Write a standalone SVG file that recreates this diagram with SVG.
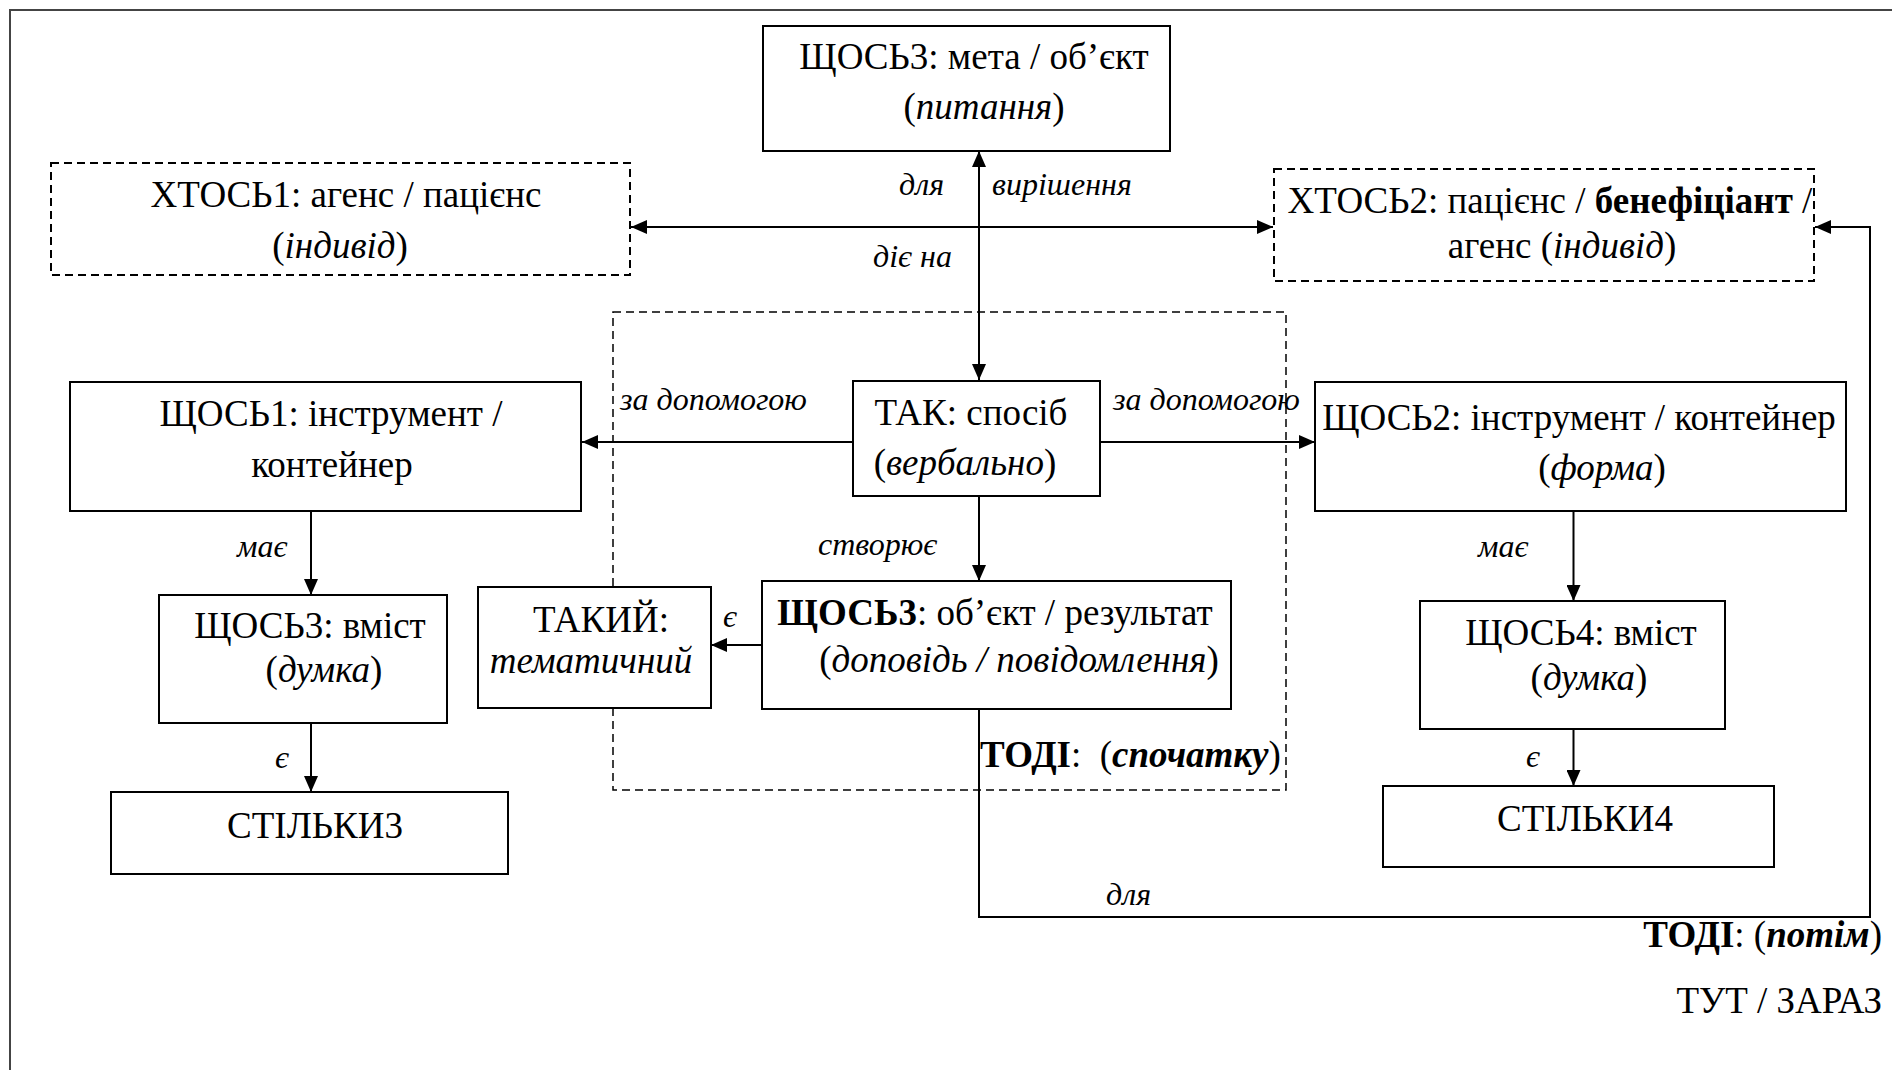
<svg xmlns="http://www.w3.org/2000/svg" width="1892" height="1070" viewBox="0 0 1892 1070">
  <style>
    text { font-family: "Liberation Serif", "Times New Roman", serif; font-size: 37px; fill: #000; }
    .c { text-anchor: middle; }
    .e { text-anchor: end; }
    .lbl { font-style: italic; font-size: 32px; }
    .i { font-style: italic; }
    .b { font-weight: bold; }
    .box { fill: #fff; stroke: #000; stroke-width: 2; }
    .dbox { fill: none; stroke: #000; stroke-width: 2; stroke-dasharray: 8 5; }
    .grp { fill: none; stroke: #000; stroke-width: 1.5; stroke-dasharray: 8 5; }
    .ln { fill: none; stroke: #000; stroke-width: 2; }
    .arr { marker-end: url(#ah); }
    .arr2 { marker-start: url(#ah); marker-end: url(#ah); }
  </style>
  <defs>
    <marker id="ah" markerUnits="userSpaceOnUse" markerWidth="16" markerHeight="14" refX="16" refY="7" orient="auto-start-reverse">
      <path d="M0,0 L16,7 L0,14 z" fill="#000"/>
    </marker>
  </defs>

  <rect width="1892" height="1070" fill="#fff"/>
  <!-- page frame -->
  <path d="M10,1070 V10 H1892" fill="none" stroke="#444" stroke-width="2"/>

  <!-- dashed scope: first stage -->
  <rect id="scope-first" class="grp" x="613" y="312" width="673" height="478"/>

  <!-- connectors -->
  <g id="connectors">
    <line class="ln arr2" x1="979" y1="380" x2="979" y2="151"/>
    <line class="ln arr2" x1="1273" y1="227" x2="631" y2="227"/>
    <line class="ln arr" x1="853" y1="442" x2="582" y2="442"/>
    <line class="ln arr" x1="1100" y1="442" x2="1315" y2="442"/>
    <line class="ln arr" x1="979" y1="496" x2="979" y2="581"/>
    <line class="ln arr" x1="762" y1="645" x2="711" y2="645"/>
    <line class="ln arr" x1="311" y1="511" x2="311" y2="595"/>
    <line class="ln arr" x1="311" y1="723" x2="311" y2="792"/>
    <line class="ln arr" x1="1573.5" y1="511" x2="1573.5" y2="601"/>
    <line class="ln arr" x1="1573.5" y1="729" x2="1573.5" y2="786"/>
    <path class="ln arr" d="M979,709 V917 H1870 V227 H1815"/>

    <text class="lbl" x="899" y="195">для</text>
    <text class="lbl" x="992" y="195">вирішення</text>
    <text class="lbl" x="873" y="267">діє на</text>
    <text class="lbl" x="620" y="410">за допомогою</text>
    <text class="lbl" x="1113" y="410">за допомогою</text>
    <text class="lbl" x="818" y="555">створює</text>
    <text class="lbl" x="723" y="627">є</text>
    <text class="lbl" x="237" y="557">має</text>
    <text class="lbl" x="275" y="768">є</text>
    <text class="lbl" x="1478" y="557">має</text>
    <text class="lbl" x="1526" y="767">є</text>
    <text class="lbl" x="1106" y="905">для</text>
  </g>

  <g id="goal">
    <rect class="box" x="763" y="26" width="407" height="125"/>
    <text class="c" x="974" y="69">ЩОСЬ3: мета / об’єкт</text>
    <text class="c" x="984" y="119">(<tspan class="i">питання</tspan>)</text>
  </g>

  <g id="agent1">
    <rect class="dbox" x="51" y="163" width="579" height="112"/>
    <text class="c" x="346" y="207">ХТОСЬ1: агенс / пацієнс</text>
    <text class="c" x="340" y="258">(<tspan class="i">індивід</tspan>)</text>
  </g>

  <g id="agent2">
    <rect class="dbox" x="1274" y="169" width="540" height="112"/>
    <text class="c" x="1550" y="213">ХТОСЬ2: пацієнс / <tspan class="b">бенефіціант</tspan> /</text>
    <text class="c" x="1562" y="258">агенс (<tspan class="i">індивід</tspan>)</text>
  </g>

  <g id="tool1">
    <rect class="box" x="70" y="382" width="511" height="129"/>
    <text class="c" x="331" y="426">ЩОСЬ1: інструмент /</text>
    <text class="c" x="332" y="477">контейнер</text>
  </g>

  <g id="manner">
    <rect class="box" x="853" y="381" width="247" height="115"/>
    <text class="c" x="971" y="425">ТАК: спосіб</text>
    <text class="c" x="965" y="475">(<tspan class="i">вербально</tspan>)</text>
  </g>

  <g id="tool2">
    <rect class="box" x="1315" y="382" width="531" height="129"/>
    <text class="c" x="1579" y="430">ЩОСЬ2: інструмент / контейнер</text>
    <text class="c" x="1602" y="480">(<tspan class="i">форма</tspan>)</text>
  </g>

  <g id="content1">
    <rect class="box" x="159" y="595" width="288" height="128"/>
    <text class="c" x="310" y="638">ЩОСЬ3: вміст</text>
    <text class="c" x="324" y="682">(<tspan class="i">думка</tspan>)</text>
  </g>

  <g id="quality">
    <rect class="box" x="478" y="587" width="233" height="121"/>
    <text class="c" x="601" y="632">ТАКИЙ:</text>
    <text class="c i" x="591" y="673">тематичний</text>
  </g>

  <g id="result">
    <rect class="box" x="762" y="581" width="469" height="128"/>
    <text class="c" x="995" y="625"><tspan class="b">ЩОСЬ3</tspan>: об’єкт / результат</text>
    <text class="c" x="1019" y="672">(<tspan class="i">доповідь / повідомлення</tspan>)</text>
  </g>

  <g id="content2">
    <rect class="box" x="1420" y="601" width="305" height="128"/>
    <text class="c" x="1581" y="645">ЩОСЬ4: вміст</text>
    <text class="c" x="1589" y="690">(<tspan class="i">думка</tspan>)</text>
  </g>

  <g id="amount3">
    <rect class="box" x="111" y="792" width="397" height="82"/>
    <text class="c" x="315" y="838">СТІЛЬКИ3</text>
  </g>

  <g id="amount4">
    <rect class="box" x="1383" y="786" width="391" height="81"/>
    <text class="c" x="1585" y="831">СТІЛЬКИ4</text>
  </g>

  <g id="time-labels">
    <text x="980" y="767" xml:space="preserve"><tspan class="b">ТОДІ</tspan>:  (<tspan class="b i">спочатку</tspan>)</text>
    <text class="e" x="1882" y="947"><tspan class="b">ТОДІ</tspan>: (<tspan class="b i">потім</tspan>)</text>
    <text class="e" x="1882" y="1013">ТУТ / ЗАРАЗ</text>
  </g>
</svg>
